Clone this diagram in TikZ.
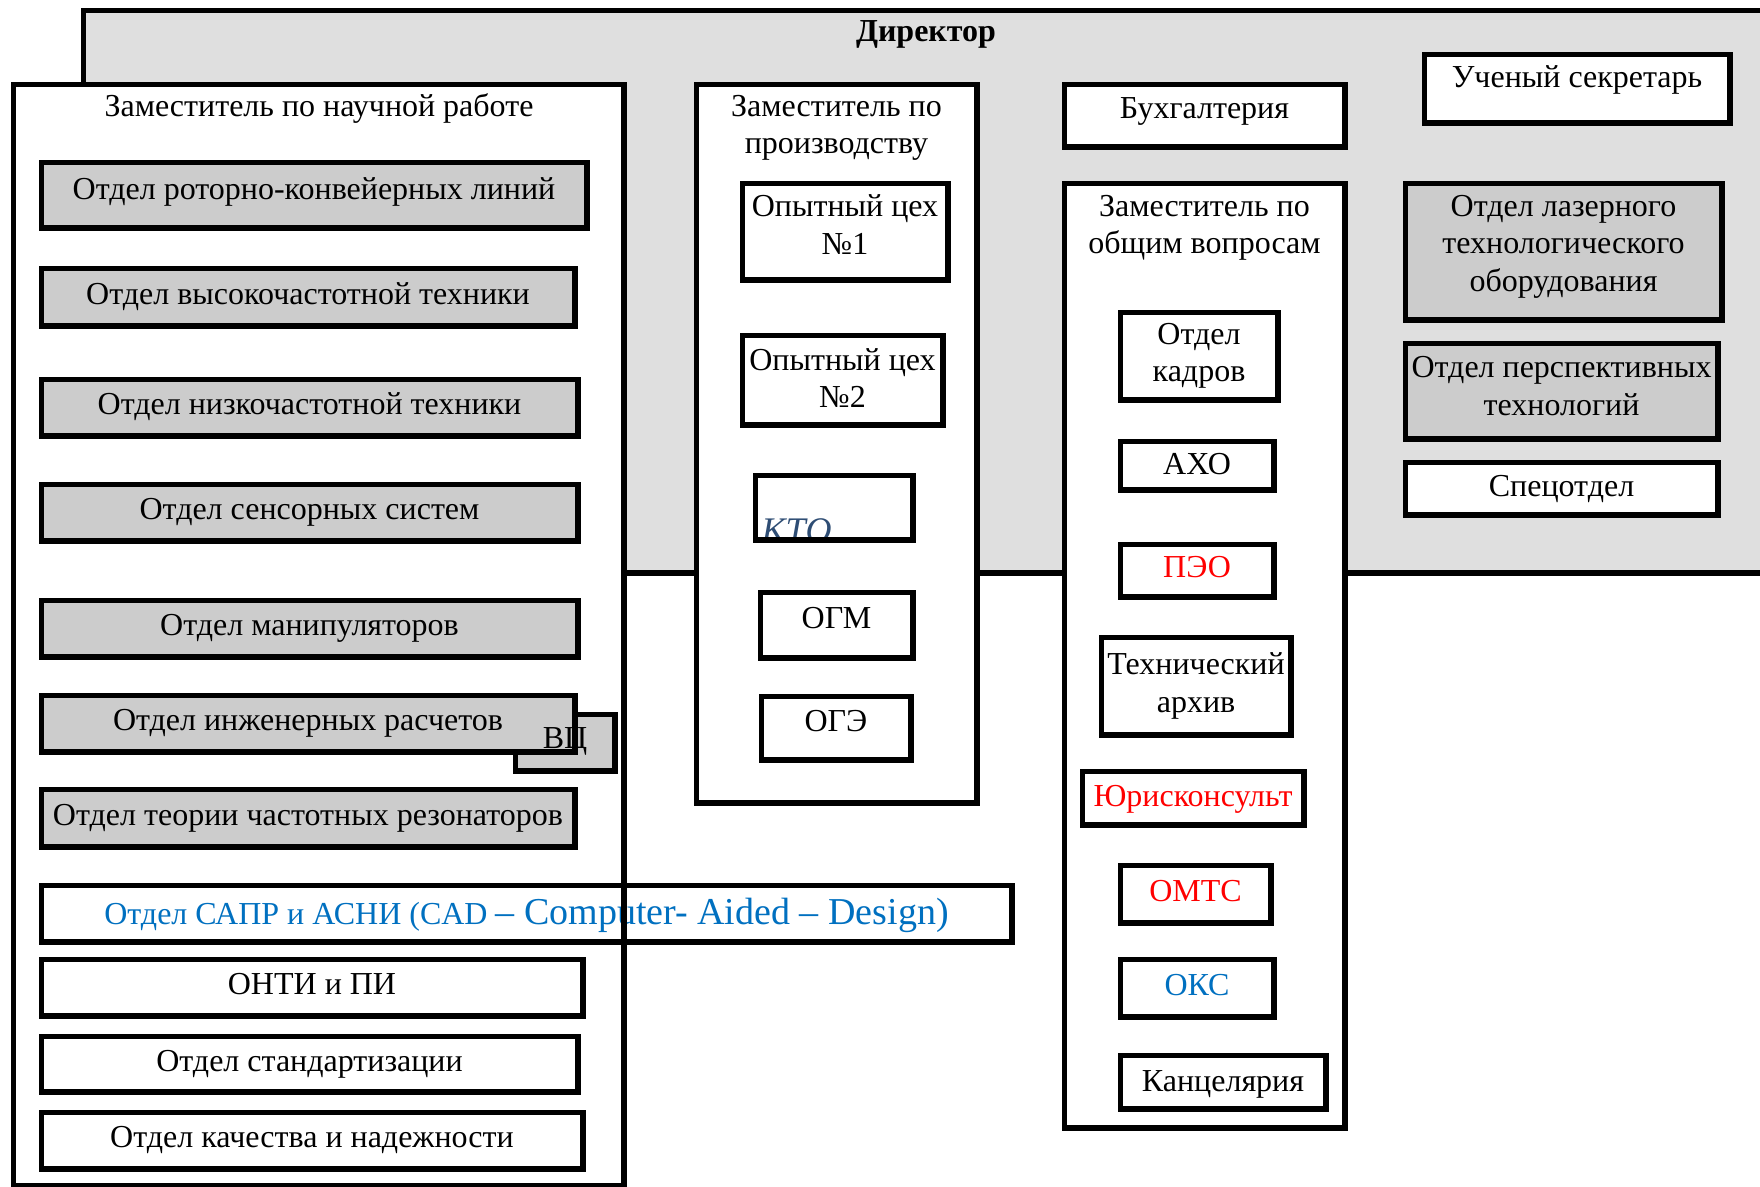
\documentclass[tikz,border=0pt]{standalone}
\usepackage{fontspec}
\setmainfont{Liberation Serif}
\usepackage{tikz}
\usetikzlibrary{positioning}

\definecolor{dirgray}{HTML}{DFDFDF}
\definecolor{deptgray}{HTML}{CCCCCC}
\definecolor{linkblue}{HTML}{0070C0}
\definecolor{ktoblue}{HTML}{2E4D74}
\newcommand{\orgfont}{\fontsize{32}{37.5}\selectfont}
\newcommand{\lift}[1]{\rule[-#1]{0pt}{#1}}
\AtBeginDocument{\orgfont}

\begin{document}
\begin{tikzpicture}[
    x=1pt, y=-1pt,
    every node/.style = {outer sep=0pt},
    frame/.style   = {draw, line width=5.5pt, fill=white, inner sep=0pt},
    unit/.style    = {draw, line width=5.5pt, fill=white, align=center, inner sep=0pt},
    dept/.style    = {unit, fill=deptgray},
    wh/.style 2 args = {minimum width=#1, minimum height=#2},
    oneline/.style = {text height=22pt, text depth=#1},
    oneline/.default = 8pt,
    title/.style   = {align=center}
]
\useasboundingbox (0,0) rectangle (1760,1186);
\clip (0,0) rectangle (1760,1186);

% =========================================================
% DIRECTOR
% =========================================================
\node[frame, fill=dirgray, wh={1694.5}{562.5}] (dir) at (930.5,291.5) {};
\node[font=\bfseries] (dirtitle) at (926,34) {Директор};

% =========================================================
% SCIENCE DEPUTY
% =========================================================
\node[frame, wh={610.5}{1101.5}] (sci) at (318.5,635) {};
\node[title] (scititle) at (319,108) {Заместитель по научной работе};

\node[dept, oneline=13pt, wh={545.5}{65.5}] (rotor)  at (314,195)   {Отдел роторно-конвейерных линий};
\node[dept, oneline, wh={533.5}{57.5}] (hf)     at (308,297)   {Отдел высокочастотной техники};
\node[dept, oneline, wh={536.5}{56.5}] (lf)     at (309.5,407.5) {Отдел низкочастотной техники};
\node[dept, oneline, wh={536.5}{56.5}] (sensor) at (309.5,512.5) {Отдел сенсорных систем};
\node[dept, oneline, wh={536.5}{56.5}] (manip)  at (309.5,628.5) {Отдел манипуляторов};
\node[dept, wh={99.5}{56.5}]           (vc)     at (565,742.5) {};
\node[dept, oneline, wh={533.5}{56.5}] (calc)   at (308,723.5) {Отдел инженерных расчетов};
\node (vctext) at (565,741) {ВЦ};
\node[dept, oneline, wh={533.5}{57.5}] (reson)  at (308,818)   {Отдел теории частотных резонаторов};

\node[unit, oneline=0pt, wh={970.5}{56.5}, text=linkblue] (cad) at (526.5,913.5)
  {{\fontsize{32}{37}\selectfont Отдел САПР и АСНИ (CAD }{\fontsize{38}{40}\selectfont – Computer- Aided – Design)}};

\node[unit, oneline, wh={541.5}{56.5}] (onti) at (312,987.5)  {ОНТИ и ПИ};
\node[unit, oneline, wh={536.5}{55.5}] (std)  at (309.5,1064) {Отдел стандартизации};
\node[unit, oneline, wh={541.5}{56.5}] (qual) at (312,1140.5) {Отдел качества и надежности};

\draw[line width=5.5pt] (sci.north west) rectangle (sci.south east);

% =========================================================
% PRODUCTION DEPUTY
% =========================================================
\node[frame, wh={280.5}{718.5}] (prod) at (836.5,443.5) {};
\node[title] (prodtitle) at (836.5,128) {Заместитель по\\производству};

\node[unit, wh={205.5}{96.5}] (shop1) at (845,231.5) {Опытный цех\\№1\lift{14pt}};
\node[unit, wh={200.5}{89.5}] (shop2) at (842.5,380) {Опытный цех\\№2\lift{4pt}};
\node[unit, wh={157.5}{64.5}] (kto)   at (834,507.5) {};
\node[anchor=base west, font=\fontsize{36}{40}\selectfont\itshape, text=ktoblue] (ktotext) at (751,542) {КТО};
\draw[line width=5.5pt] (kto.north west) rectangle (kto.south east);
\node[unit, oneline=15pt, wh={152.5}{65.5}] (ogm) at (836.5,625) {ОГМ};
\node[unit, oneline=15pt, wh={149.5}{63.5}] (oge) at (836,728)   {ОГЭ};

% =========================================================
% ACCOUNTING / GENERAL DEPUTY
% =========================================================
\node[unit, oneline=17pt, wh={280.5}{62.5}] (buh) at (1204.5,115.5) {Бухгалтерия};

\node[frame, wh={280.5}{944.5}] (gen) at (1204.5,655.5) {};
\node[title] (gentitle) at (1204.5,228) {Заместитель по\\общим вопросам};

\node[unit, wh={157.5}{87.5}]          (hr)    at (1199,356)    {Отдел\\кадров};
\node[unit, oneline=4pt, wh={153.5}{48.5}] (aho)   at (1197,465.5)  {АХО};
\node[unit, oneline, wh={153.5}{52.5}, text=red] (peo) at (1197,570.5) {ПЭО};
\node[unit, wh={189.5}{97.5}]          (arch)  at (1196,686)    {Технический\\архив};
\node[unit, oneline=6pt, wh={221.5}{53.5}, text=red] (jur) at (1193,798) {Юрисконсульт};
\node[unit, oneline, wh={150.5}{57.5}, text=red] (omts) at (1195.5,894) {ОМТС};
\node[unit, oneline, wh={153.5}{57.5}, text=linkblue] (oks) at (1197,988) {ОКС};
\node[unit, oneline=4pt, wh={205.5}{53.5}] (kanc)  at (1223,1082)   {Канцелярия};

% =========================================================
% RIGHT COLUMN
% =========================================================
\node[unit, oneline=24pt, wh={305.5}{68.5}] (secr)  at (1577,88.5)   {Ученый секретарь};
\node[dept, wh={316.5}{136.5}]         (laser) at (1563.5,251.5) {Отдел лазерного\\технологического\\оборудования\lift{17pt}};
\node[dept, wh={312.5}{95.5}]          (persp) at (1561.5,391)  {Отдел перспективных\\технологий\lift{10pt}};
\node[unit, oneline=6pt, wh={312.5}{52.5}] (spec)  at (1561.5,488.5) {Спецотдел};

\end{tikzpicture}
\end{document}
